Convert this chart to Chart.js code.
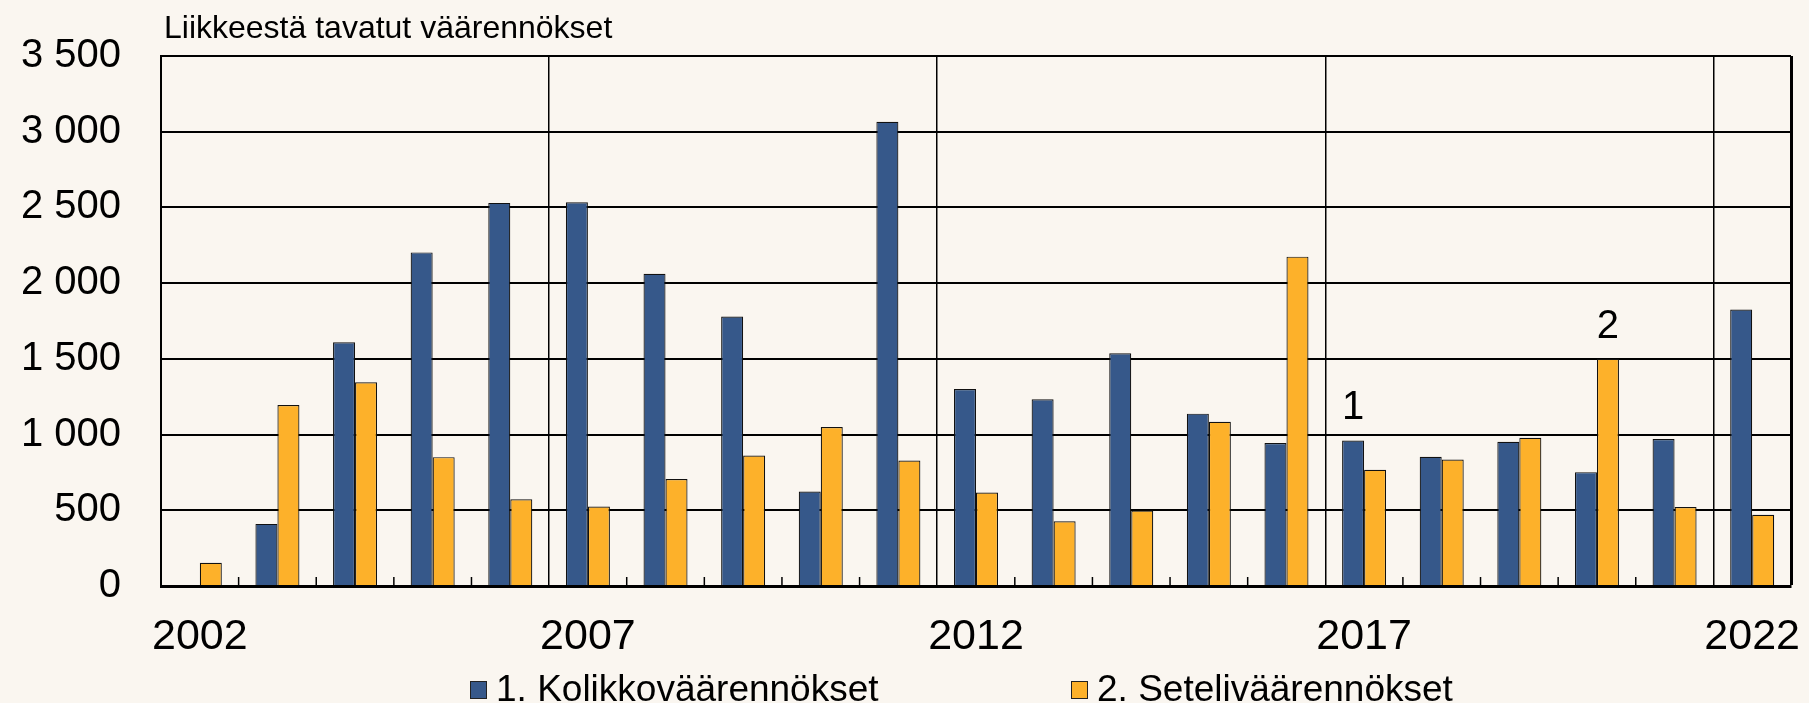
<!DOCTYPE html>
<html lang="fi">
<head>
<meta charset="utf-8">
<title>Liikkeestä tavatut väärennökset</title>
<script src="https://cdn.jsdelivr.net/npm/chart.js@4/dist/chart.umd.min.js"></script>
<style>
  html, body { margin: 0; padding: 0; background: #faf6f0; }
  #wrap { position: relative; width: 1809px; height: 703px; background: #faf6f0; font-family: "Liberation Sans", Arial, sans-serif; color: #000; }
  #otsikko { position: absolute; left: 164px; top: 11px; font-size: 32px; line-height: 32px; white-space: nowrap; }
  .selite { position: absolute; top: 670px; font-size: 37px; line-height: 37px; white-space: nowrap; }
  .selite i { position: absolute; left: 0; top: 11px; width: 15px; height: 16px; border: 1px solid #222; }
  .selite span { position: absolute; left: 26px; top: 0; }
</style>
</head>
<body>
<div id="wrap">
  <canvas id="kaavio"></canvas>
  <div id="otsikko">Liikkeestä tavatut väärennökset</div>
  <div id="selitteet"></div>
</div>
<script>
/* ============================
   DATA
============================ */

const vuodet = ['2002','2003','2004','2005','2006','2007','2008','2009','2010','2011','2012',
  '2013','2014','2015','2016','2017','2018','2019','2020','2021','2022'];

const kolikot = [null, 410, 1610, 2203, 2530, 2534, 2062, 1780, 624, 3065, 1301,
  1233, 1537, 1138, 944, 961, 853, 953, 752, 970, 1826];

const setelit = [154, 1195, 1345, 851, 573, 525, 706, 862, 1050, 829, 617,
  428, 498, 1085, 2175, 767, 835, 979, 1500, 522, 470];

const sarjaNimet = ['1. Kolikkoväärennökset', '2. Seteliväärennökset'];
const sarjaVarit = ['#36588a', '#fdb12a'];

const yTikit = [0, 500, 1000, 1500, 2000, 2500, 3000, 3500];

// merkinnät pylväiden päällä
const merkinnat = ['1', '2'];
const merkintaSarja = [0, 1];
const merkintaVuosi = ['2017', '2020'];

/* ============================
   APUFUNKTIOT
============================ */

const FONTTI = '"Liberation Sans", Arial, sans-serif';

function muotoile(n) {
  return String(n).replace(/\B(?=(\d{3})+(?!\d))/g, ' ');
}

/* pienet väkäset luokkien rajoilla + numerot 1 ja 2 */
const vakasetPlugin = {
  id: 'vakaset',
  afterDatasetsDraw(chart) {
    const { ctx, chartArea } = chart;
    const x = chart.scales.x;
    ctx.save();
    ctx.strokeStyle = '#000';
    ctx.lineWidth = 1.5;
    for (let i = 1; i < vuodet.length; i++) {
      if (i % 5 === 0) continue;
      const px = (x.getPixelForValue(i - 1) + x.getPixelForValue(i)) / 2;
      ctx.beginPath();
      ctx.moveTo(px, chartArea.bottom);
      ctx.lineTo(px, chartArea.bottom - 9);
      ctx.stroke();
    }

    ctx.fillStyle = '#000';
    ctx.font = '40px ' + FONTTI;
    ctx.textAlign = 'center';
    ctx.textBaseline = 'alphabetic';
    merkinnat.forEach((teksti, k) => {
      const meta = chart.getDatasetMeta(merkintaSarja[k]);
      const bar = meta.data[vuodet.indexOf(merkintaVuosi[k])];
      if (bar) ctx.fillText(teksti, bar.x, bar.y - 21);
    });
    ctx.restore();
  }
};

/* ============================
   KAAVIO
============================ */

Chart.defaults.font.family = FONTTI;
Chart.defaults.color = '#000';

new Chart(document.getElementById('kaavio').getContext('2d'), {
  type: 'bar',
  data: {
    labels: vuodet,
    datasets: [kolikot, setelit].map((arvot, i) => ({
      label: sarjaNimet[i],
      data: arvot,
      backgroundColor: sarjaVarit[i],
      borderColor: '#111',
      borderWidth: 1.2,
      categoryPercentage: 0.567,
      barPercentage: 1
    }))
  },
  options: {
    responsive: true,
    maintainAspectRatio: false,
    animation: false,
    layout: { padding: { left: 0, right: 18, top: 56, bottom: 0 } },
    plugins: {
      legend: { display: false },
      tooltip: { enabled: false }
    },
    scales: {
      x: {
        grid: {
          drawTicks: false,
          color: c => (c.type !== 'tick' || c.index % 5 === 0) ? '#000' : 'rgba(0,0,0,0)',
          lineWidth: c => c.type !== 'tick' ? 3 : 1.5
        },
        border: { color: '#000', width: 3 },
        ticks: {
          autoSkip: false,
          maxRotation: 0,
          padding: 25,
          font: { size: 43 },
          callback: (v, i) => i % 5 === 0 ? vuodet[i] : ''
        },
        afterFit: s => { s.height = 117; s.paddingLeft = 0; s.paddingRight = 0; }
      },
      y: {
        min: 0,
        max: 3500,
        grid: { color: '#000', lineWidth: 2, drawTicks: false },
        border: { color: '#000', width: 2 },
        afterBuildTicks: s => { s.ticks = yTikit.map(v => ({ value: v })); },
        ticks: {
          padding: 40,
          font: { size: 40 },
          callback: v => muotoile(v)
        },
        afterFit: s => { s.width = 161; s.paddingTop = 0; s.paddingBottom = 0; }
      }
    }
  },
  plugins: [vakasetPlugin]
});

/* Selitteet */
const selitePaikat = [470, 1071];
const selitteet = document.getElementById('selitteet');
sarjaNimet.forEach((nimi, i) => {
  const d = document.createElement('div');
  d.className = 'selite';
  d.style.left = selitePaikat[i] + 'px';
  d.innerHTML = `<i style="background:${sarjaVarit[i]}"></i><span>${nimi}</span>`;
  selitteet.appendChild(d);
});
</script>
</body>
</html>
